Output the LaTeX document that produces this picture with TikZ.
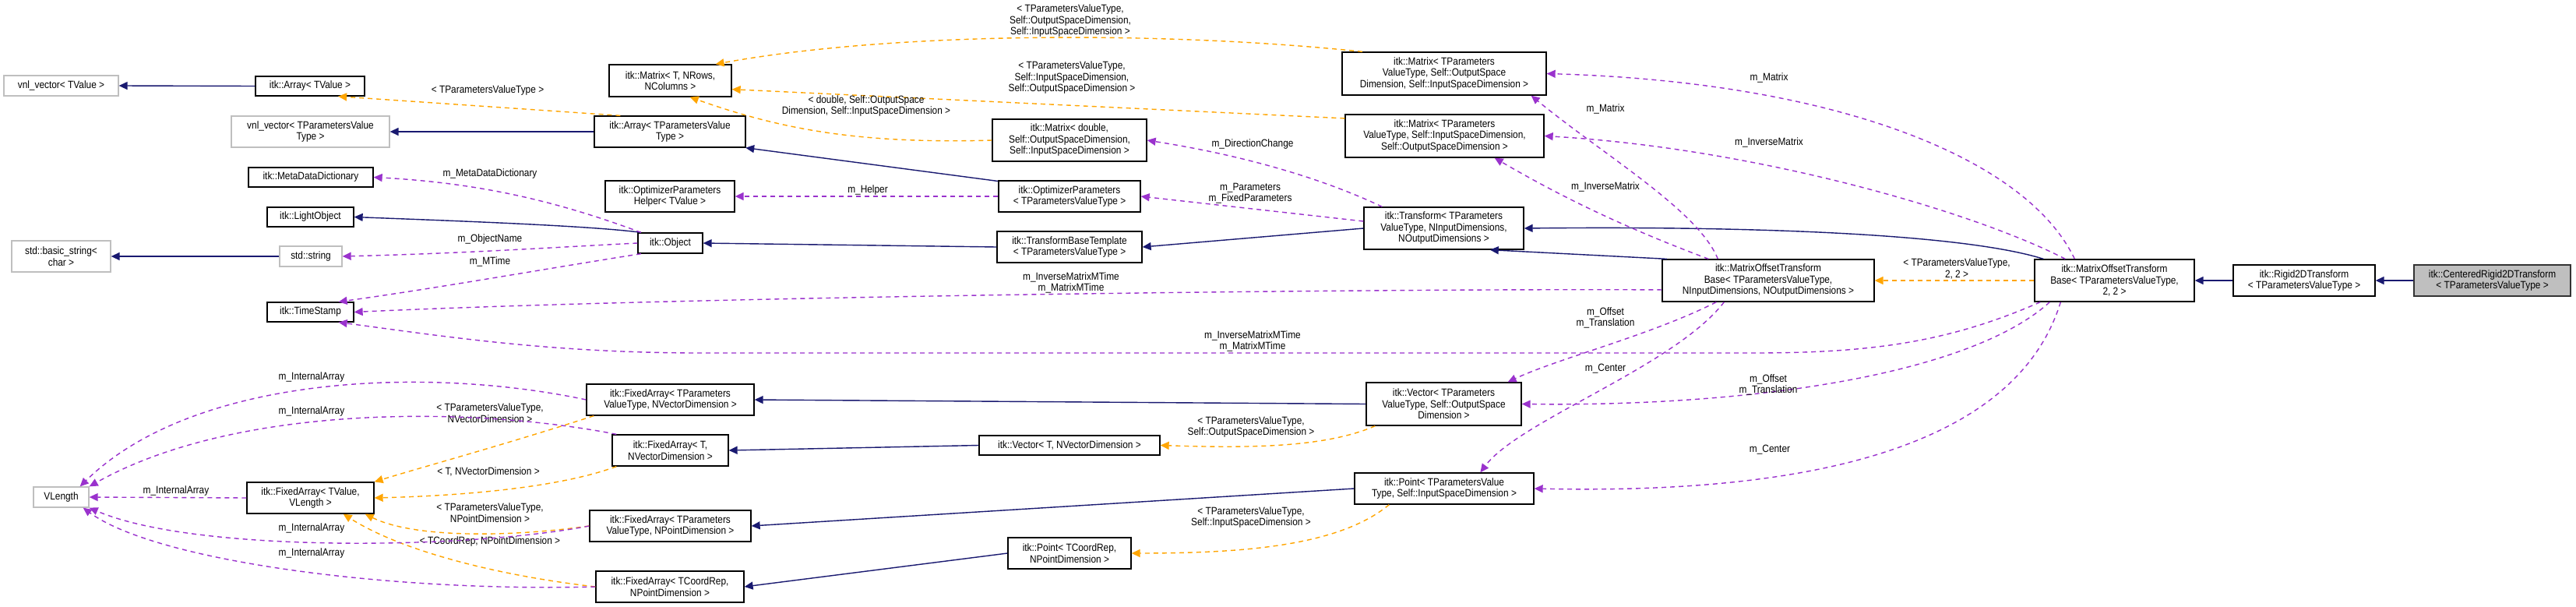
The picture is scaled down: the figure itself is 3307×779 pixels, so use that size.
\documentclass[tikz,border=0pt]{standalone}
\usepackage{fontspec}
\setmainfont{Liberation Sans}[FakeStretch=0.88]
\usetikzlibrary{arrows.meta,calc}
\definecolor{inhc}{HTML}{191970}
\definecolor{usec}{HTML}{9A32CD}
\definecolor{tplc}{HTML}{FFA500}
\definecolor{grayb}{HTML}{BFBFBF}
\newcommand\nd[7][box]{\node[#1, minimum width={(#5-#3)*1pt}, minimum height={(#6-#4)*1pt}] (#2) at ({(#3+#5)/2},{(#4+#6)/2}) {#7};}
\begin{document}
\begin{tikzpicture}[x=1pt,y=-1pt,
  every node/.style={font=\fontsize{13.5}{14.5}\selectfont, inner sep=1pt, align=center},
  box/.style={draw=black, line width=1.3pt, fill=white},
  gbox/.style={draw=grayb, line width=1.3pt, fill=white},
  hbox/.style={draw=black!80, line width=1.3pt, fill=grayb},
  inh/.style={draw=inhc, line width=1.4pt, -{Triangle[length=11pt,width=10pt]}},
  use/.style={draw=usec, line width=1.4pt, dash pattern=on 6pt off 5pt, -{Triangle[length=11pt,width=10pt]}},
  tpl/.style={draw=tplc, line width=1.4pt, dash pattern=on 6pt off 5pt, -{Triangle[length=11pt,width=10pt]}},
  lbl/.style={}]
\useasboundingbox[fill=white] (0,0) rectangle (3307,779);
% nodes
\nd[gbox]{vnlT}{5}{97}{152}{123}{vnl\_vector< TValue >}
\nd{arrT}{328}{98}{468}{123}{itk::Array< TValue >}
\nd[gbox]{vnlP}{297}{149}{500}{189}{vnl\_vector< TParametersValue\\Type >}
\nd{matT}{782}{83}{939}{124}{itk::Matrix< T, NRows,\\NColumns >}
\nd{arrP}{763}{149}{957}{189}{itk::Array< TParametersValue\\Type >}
\nd{meta}{319}{215}{479}{240}{itk::MetaDataDictionary}
\nd{light}{343}{266}{454}{291}{itk::LightObject}
\nd[gbox]{bstr}{15}{309}{142}{349}{std::basic\_string<\\char >}
\nd[gbox]{str}{359}{316}{439}{342}{std::string}
\nd{helper}{777}{232}{943}{272}{itk::OptimizerParameters\\Helper< TValue >}
\nd{obj}{819}{299}{902}{325}{itk::Object}
\nd{ts}{343}{388}{454}{413}{itk::TimeStamp}
\nd{matD}{1274}{153}{1472}{207}{itk::Matrix< double,\\Self::OutputSpaceDimension,\\Self::InputSpaceDimension >}
\nd{optP}{1282}{232}{1464}{272}{itk::OptimizerParameters\\< TParametersValueType >}
\nd{tbt}{1280}{297}{1466}{337}{itk::TransformBaseTemplate\\< TParametersValueType >}
\nd{mat1}{1723}{67}{1985}{122}{itk::Matrix< TParameters\\ValueType, Self::OutputSpace\\Dimension, Self::InputSpaceDimension >}
\nd{mat2}{1727}{147}{1982}{202}{itk::Matrix< TParameters\\ValueType, Self::InputSpaceDimension,\\Self::OutputSpaceDimension >}
\nd{tr}{1751}{266}{1956}{320}{itk::Transform< TParameters\\ValueType, NInputDimensions,\\NOutputDimensions >}
\nd{motb}{2134}{333}{2406}{387}{itk::MatrixOffsetTransform\\Base< TParametersValueType,\\NInputDimensions, NOutputDimensions >}
\nd{motbb}{2612}{333}{2817}{387}{itk::MatrixOffsetTransform\\Base< TParametersValueType,\\2, 2 >}
\nd{rig}{2867}{340}{3049}{380}{itk::Rigid2DTransform\\< TParametersValueType >}
\nd[hbox]{cen}{3099}{340}{3300}{380}{itk::CenteredRigid2DTransform\\< TParametersValueType >}
\nd[gbox]{vl}{43}{625}{114}{651}{VLength}
\nd{faV}{317}{619}{480}{659}{itk::FixedArray< TValue,\\VLength >}
\nd{faPV}{753}{493}{968}{533}{itk::FixedArray< TParameters\\ValueType, NVectorDimension >}
\nd{faT}{786}{558}{935}{598}{itk::FixedArray< T,\\NVectorDimension >}
\nd{faPP}{757}{655}{964}{695}{itk::FixedArray< TParameters\\ValueType, NPointDimension >}
\nd{faCP}{765}{733}{955}{773}{itk::FixedArray< TCoordRep,\\NPointDimension >}
\nd{vecT}{1257}{559}{1489}{584}{itk::Vector< T, NVectorDimension >}
\nd{pointT}{1294}{690}{1452}{730}{itk::Point< TCoordRep,\\NPointDimension >}
\nd{vecP}{1754}{491}{1953}{546}{itk::Vector< TParameters\\ValueType, Self::OutputSpace\\Dimension >}
\nd{pointP}{1739}{607}{1969}{647}{itk::Point< TParametersValue\\Type, Self::InputSpaceDimension >}
% inheritance
\draw[inh] (arrT.west) -- (vnlT.east);
\draw[inh] (arrP.west) -- (vnlP.east);
\draw[inh] (optP.168) -- (arrP.-12);
\draw[inh] (obj.160) .. controls (760,290) and (600,284) .. (light.east);
\draw[inh] (str.west) -- (bstr.east);
\draw[inh] (tbt.west) -- (obj.east);
\draw[inh] (tr.west) -- (tbt.east);
\draw[inh] (motb.168) -- (tr.-25);
\draw[inh] ($(motbb.north west)+(12,0)$) .. controls (2520,300) and (2250,290) .. (tr.east);
\draw[inh] (rig.west) -- (motbb.east);
\draw[inh] (cen.west) -- (rig.east);
\draw[inh] (vecP.west) -- (faPV.east);
\draw[inh] (vecT.west) -- (faT.east);
\draw[inh] (pointP.west) -- (faPP.east);
\draw[inh] (pointT.west) -- (faCP.east);
% template
\draw[tpl] (arrP.162) -- (arrT.-20);
\node (l1) at (626,116) {< TParametersValueType >};
\draw[tpl] (mat1.165) .. controls (1500,40) and (1150,40) .. (matT.20);
\node (l2) at (1374,27) {< TParametersValueType,\\Self::OutputSpaceDimension,\\Self::InputSpaceDimension >};
\draw[tpl] (mat2.170) -- (matT.-8);
\node (l3) at (1376,100) {< TParametersValueType,\\Self::InputSpaceDimension,\\Self::OutputSpaceDimension >};
\draw[tpl] (matD.west) .. controls (1100,185) and (1000,165) .. (matT.-40);
\node (l4) at (1112,136) {< double, Self::OutputSpace\\Dimension, Self::InputSpaceDimension >};
\draw[tpl] (motbb.west) -- (motb.east);
\node (l5) at (2512,345) {< TParametersValueType,\\2, 2 >};
\draw[tpl] ($(faPV.south west)+(10,0)$) .. controls (650,570) and (540,600) .. (faV.north east);
\node (l6) at (629,530) {< TParametersValueType,\\NVectorDimension >};
\draw[tpl] ($(faT.south west)+(6,0)$) .. controls (720,625) and (600,636) .. (faV.east);
\node (l7) at (627,605) {< T, NVectorDimension >};
\draw[tpl] (faPP.west) .. controls (650,690) and (530,690) .. ($(faV.south east)+(-12,0)$);
\node (l8) at (629,658) {< TParametersValueType,\\NPointDimension >};
\draw[tpl] (faCP.west) .. controls (650,740) and (520,710) .. ($(faV.south east)+(-40,0)$);
\node (l9) at (629,695) {< TCoordRep, NPointDimension >};
\draw[tpl] ($(vecP.south west)+(12,0)$) .. controls (1700,575) and (1600,575) .. (vecT.east);
\node (l10) at (1606,548) {< TParametersValueType,\\Self::OutputSpaceDimension >};
\draw[tpl] ($(pointP.south west)+(45,0)$) .. controls (1720,700) and (1600,710) .. (pointT.east);
\node (l11) at (1606,664) {< TParametersValueType,\\Self::InputSpaceDimension >};
% usage
\draw[use] (obj.160) .. controls (720,260) and (620,235) .. (meta.east);
\node (u1) at (629,223) {m\_MetaDataDictionary};
\draw[use] (obj.west) .. controls (700,318) and (600,325) .. (str.east);
\node (u2) at (629,307) {m\_ObjectName};
\draw[use] (obj.200) .. controls (700,345) and (560,370) .. (ts.20);
\node (u3) at (629,336) {m\_MTime};
\draw[use] (optP.west) -- (helper.east);
\node (u4) at (1114,244) {m\_Helper};
\draw[use] ($(tr.north west)+(24,0)$) .. controls (1700,230) and (1600,200) .. (matD.east);
\node (u5) at (1608,185) {m\_DirectionChange};
\draw[use] (tr.175) -- (optP.east);
\node (u6) at (1605,248) {m\_Parameters\\m\_FixedParameters};
\draw[use] (motb.185) .. controls (1800,370) and (900,380) .. (ts.east);
\node (u7) at (1375,363) {m\_InverseMatrixMTime\\m\_MatrixMTime};
\draw[use] ($(motbb.south west)+(8,0)$) .. controls (2500,440) and (2400,453) .. (2250,453) -- (900,453) .. controls (700,453) and (560,430) .. (ts.-20);
\node (u8) at (1608,438) {m\_InverseMatrixMTime\\m\_MatrixMTime};
\draw[use] ($(motb.north west)+(72,0)$) .. controls (2180,270) and (2060,200) .. ($(mat1.south east)+(-20,0)$);
\node (u9) at (2061,140) {m\_Matrix};
\draw[use] ($(motb.north west)+(60,0)$) .. controls (2080,290) and (2000,250) .. ($(mat2.south east)+(-64,0)$);
\node (u10) at (2061,240) {m\_InverseMatrix};
\draw[use] ($(motbb.north west)+(52,0)$) .. controls (2600,200) and (2350,105) .. (mat1.east);
\node (u11) at (2271,100) {m\_Matrix};
\draw[use] ($(motbb.north west)+(40,0)$) .. controls (2530,270) and (2250,190) .. (mat2.east);
\node (u12) at (2271,183) {m\_InverseMatrix};
\draw[use] ($(motb.south west)+(70,0)$) .. controls (2120,430) and (2000,460) .. ($(vecP.north east)+(-18,0)$);
\node (u13) at (2061,408) {m\_Offset\\m\_Translation};
\draw[use] ($(motb.south west)+(80,0)$) .. controls (2150,470) and (1950,540) .. ($(pointP.north west)+(162,0)$);
\node (u14) at (2061,473) {m\_Center};
\draw[use] ($(motbb.south west)+(20,0)$) .. controls (2530,480) and (2250,522) .. (vecP.east);
\node (u15) at (2270,494) {m\_Offset\\m\_Translation};
\draw[use] ($(motbb.south west)+(34,0)$) .. controls (2580,600) and (2250,633) .. (pointP.east);
\node (u16) at (2272,577) {m\_Center};
\draw[use] (faPV.west) .. controls (550,470) and (250,480) .. ($(vl.north east)+(-12,0)$);
\node (u17) at (400,484) {m\_InternalArray};
\draw[use] ($(faT.north west)+(6,0)$) .. controls (600,520) and (300,520) .. (vl.north east);
\node (u18) at (400,528) {m\_InternalArray};
\draw[use] (faV.west) -- (vl.east);
\node (u19) at (226,630) {m\_InternalArray};
\draw[use] (faPP.west) .. controls (600,705) and (250,710) .. (vl.south east);
\node (u20) at (400,678) {m\_InternalArray};
\draw[use] (faCP.west) .. controls (500,760) and (200,720) .. ($(vl.south east)+(-8,0)$);
\node (u21) at (400,710) {m\_InternalArray};
\end{tikzpicture}
\end{document}
